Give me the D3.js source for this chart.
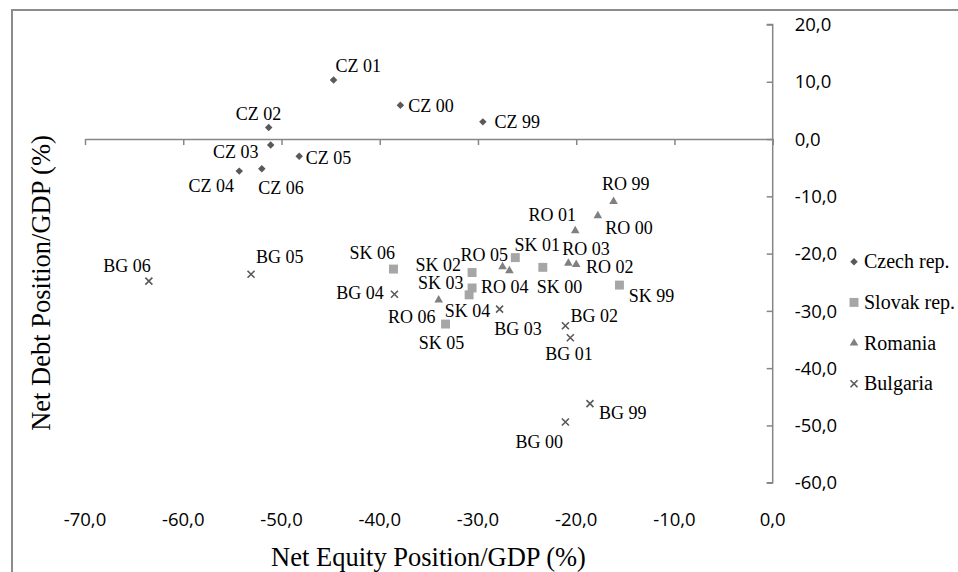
<!DOCTYPE html>
<html>
<head>
<meta charset="utf-8">
<script src="https://cdn.jsdelivr.net/npm/d3@7"></script>
<style>
  html, body { margin: 0; padding: 0; background: #fff; }
  svg { display: block; }
</style>
</head>
<body>
<svg id="chart" width="958" height="572"></svg>
<script>
// ---------------- DATA ----------------
const seriesNames = ["Czech rep.", "Slovak rep.", "Romania", "Bulgaria"];

const czechLabels = ["CZ 99", "CZ 00", "CZ 01", "CZ 02", "CZ 03", "CZ 04", "CZ 05", "CZ 06"];
const czechEquity = [-29.5, -37.9, -44.7, -51.3, -51.1, -54.3, -48.2, -52.0];
const czechDebt   = [3.0, 5.9, 10.3, 2.0, -1.05, -5.6, -3.0, -5.2];

const slovakLabels = ["SK 99", "SK 00", "SK 01", "SK 02", "SK 03", "SK 04", "SK 05", "SK 06"];
const slovakEquity = [-15.6, -23.4, -26.2, -30.6, -30.6, -30.9, -33.3, -38.6];
const slovakDebt   = [-25.5, -22.4, -20.7, -23.3, -26.0, -27.2, -32.3, -22.7];

const romaniaLabels = ["RO 99", "RO 00", "RO 01", "RO 02", "RO 03", "RO 04", "RO 05", "RO 06"];
const romaniaEquity = [-16.2, -17.8, -20.1, -20.0, -20.8, -26.8, -27.5, -34.0];
const romaniaDebt   = [-10.9, -13.4, -16.0, -21.9, -21.7, -23.0, -22.3, -28.1];

const bulgariaLabels = ["BG 99", "BG 00", "BG 01", "BG 02", "BG 03", "BG 04", "BG 05", "BG 06"];
const bulgariaEquity = [-18.6, -21.1, -20.6, -21.1, -27.8, -38.5, -53.1, -63.5];
const bulgariaDebt   = [-46.2, -49.4, -34.7, -32.6, -29.7, -27.1, -23.6, -24.8];

const xTicks = [-70, -60, -50, -40, -30, -20, -10, 0];
const yTicks = [20, 10, 0, -10, -20, -30, -40, -50, -60];

const xTitle = "Net Equity Position/GDP (%)";
const yTitle = "Net Debt Position/GDP (%)";

// ---------------- LAYOUT (label offsets in px, relative to point) ----------------
const czechOff    = [[11.7,5.7],[8,7],[2,-8],[-33,-8],[-57.7,13.3],[-50.7,20.7],[6.7,8],[-3.7,25]];
const slovakOff   = [[9.3,16.7],[-6,26],[-0.7,-7],[-56.7,-2],[-54,0.6],[-24.3,21.7],[-26.7,25],[-44,-10]];
const romaniaOff  = [[-11.6,-11.7],[7.4,18.3],[-46.7,-9.7],[9.7,9],[-6,-8.3],[-28.3,22.3],[-42,-6],[-50.7,23.3]];
const bulgariaOff = [[9,15.3],[-50,26.3],[-25,22.3],[5,-3.3],[-5.3,25.7],[-58.3,4.3],[5,-11],[-45.7,-9.3]];

// ---------------- CHART ----------------
const svg = d3.select("#chart");
const x = d3.scaleLinear().domain([-70, 0]).range([85, 772.7]);
const y = d3.scaleLinear().domain([-60, 20]).range([482.7, 24.5]);
const fmt = d => d.toFixed(1).replace(".", ",");
const axisColor = "#868686";
const tickFont = "'Open Sans', sans-serif";
const serif = "'Liberation Serif', 'Times New Roman', serif";

// frame
svg.append("rect").attr("x", 12).attr("y", 10).attr("width", 1000).attr("height", 700)
  .attr("fill", "none").attr("stroke", "#8c8c8c").attr("stroke-width", 2);

// x axis (line + ticks) at y=0
const xAxisG = svg.append("g").attr("transform", `translate(0,${y(0)})`)
  .call(d3.axisBottom(x).tickValues(xTicks).tickSize(6).tickSizeOuter(0).tickFormat(""));
// y axis (line + ticks) at x=0
const yAxisG = svg.append("g").attr("transform", `translate(${x(0)},0)`)
  .call(d3.axisLeft(y).tickValues(yTicks).tickSize(6).tickSizeOuter(6).tickFormat(""));
[xAxisG, yAxisG].forEach(g => {
  g.select(".domain").attr("stroke", axisColor).attr("stroke-width", 1.5);
  g.selectAll(".tick line").attr("stroke", axisColor).attr("stroke-width", 1.5);
});
// y axis: ticks on left, including end caps drawn by outer ticks
yAxisG.select(".domain").attr("d", `M-6,${y(20)}H0V${y(-60)}H-6`);

// x tick labels at bottom
svg.append("g").selectAll("text").data(xTicks).join("text")
  .attr("x", d => x(d)).attr("y", 526)
  .attr("text-anchor", "middle")
  .attr("font-family", tickFont).attr("font-size", 18.5).attr("fill", "#000")
  .text(fmt);

// y tick labels right of axis
svg.append("g").selectAll("text").data(yTicks).join("text")
  .attr("x", x(0) + 22).attr("y", d => y(d)).attr("dy", "0.36em")
  .attr("text-anchor", "start")
  .attr("font-family", tickFont).attr("font-size", 18.5).attr("fill", "#000")
  .text(fmt);

// axis titles
svg.append("text").attr("x", 428.5).attr("y", 566)
  .attr("text-anchor", "middle").attr("font-family", serif).attr("font-size", 26.5)
  .attr("fill", "#000").text(xTitle);
svg.append("text").attr("transform", "translate(50,283) rotate(-90)")
  .attr("text-anchor", "middle").attr("font-family", serif).attr("font-size", 26.5)
  .attr("fill", "#000").text(yTitle);

// marker shapes
const crossType = { draw(ctx, size) { const r = Math.sqrt(size) / 2;
  ctx.moveTo(-r, -r); ctx.lineTo(r, r); ctx.moveTo(-r, r); ctx.lineTo(r, -r); } };
const diamondType = { draw(ctx, size) { const r = Math.sqrt(size) / 2;
  ctx.moveTo(0, -r); ctx.lineTo(r, 0); ctx.lineTo(0, r); ctx.lineTo(-r, 0); ctx.closePath(); } };

const series = [
  { name: seriesNames[0], labels: czechLabels, xs: czechEquity, ys: czechDebt, off: czechOff,
    sym: d3.symbol(diamondType, 56), fill: "#595959", stroke: "none" },
  { name: seriesNames[1], labels: slovakLabels, xs: slovakEquity, ys: slovakDebt, off: slovakOff,
    sym: d3.symbol(d3.symbolSquare, 80), fill: "#a6a6a6", stroke: "none" },
  { name: seriesNames[2], labels: romaniaLabels, xs: romaniaEquity, ys: romaniaDebt, off: romaniaOff,
    sym: d3.symbol(d3.symbolTriangle, 32), fill: "#808080", stroke: "none" },
  { name: seriesNames[3], labels: bulgariaLabels, xs: bulgariaEquity, ys: bulgariaDebt, off: bulgariaOff,
    sym: d3.symbol(crossType, 49), fill: "none", stroke: "#595959" }
];

series.forEach(s => {
  const pts = s.labels.map((l, i) => ({ label: l, xv: s.xs[i], yv: s.ys[i], off: s.off[i] }));
  const g = svg.append("g");
  g.selectAll("path").data(pts).join("path")
    .attr("transform", d => `translate(${x(d.xv)},${y(d.yv)})`)
    .attr("d", s.sym())
    .attr("fill", s.fill).attr("stroke", s.stroke).attr("stroke-width", 1.6);
  g.selectAll("text").data(pts).join("text")
    .attr("x", d => x(d.xv) + d.off[0]).attr("y", d => y(d.yv) + d.off[1])
    .attr("font-family", serif).attr("font-size", 18).attr("fill", "#000")
    .text(d => d.label);
});

// legend
const legend = svg.append("g");
series.forEach((s, i) => {
  const cy = 261.7 + i * 40.7;
  legend.append("path").attr("transform", `translate(854,${cy})`).attr("d", s.sym())
    .attr("fill", s.fill).attr("stroke", s.stroke).attr("stroke-width", 1.6);
  legend.append("text").attr("x", 864).attr("y", cy).attr("dy", "0.33em")
    .attr("font-family", serif).attr("font-size", 20).attr("fill", "#000")
    .text(s.name);
});
</script>
</body>
</html>
